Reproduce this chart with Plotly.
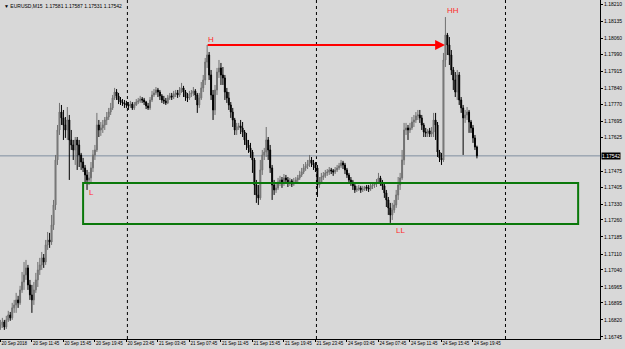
import plotly.graph_objects as go

# ---------------- data (EURUSD M15) ----------------
open_ = [1.16785,1.16798,1.16811,1.16789,1.16820,1.16842,1.16829,1.16873,1.16886,1.16908,
1.16895,1.16952,1.16987,1.17018,1.17049,1.16974,1.16930,1.16908,1.16952,1.16996,
1.17040,1.17062,1.17093,1.17075,1.17150,1.17172,1.17163,1.17238,1.17326,1.17524,
1.17656,1.17735,1.17709,1.17678,1.17656,1.17700,1.17612,1.17590,1.17568,1.17612,
1.17590,1.17546,1.17515,1.17489,1.17458,1.17436,1.17445,1.17489,1.17546,1.17568,
1.17678,1.17656,1.17665,1.17678,1.17700,1.17713,1.17735,1.17753,1.17797,1.17823,
1.17806,1.17788,1.17779,1.17775,1.17770,1.17766,1.17762,1.17770,1.17753,1.17766,
1.17779,1.17784,1.17792,1.17788,1.17779,1.17762,1.17753,1.17788,1.17810,1.17819,
1.17832,1.17823,1.17806,1.17788,1.17784,1.17775,1.17797,1.17806,1.17801,1.17814,
1.17819,1.17810,1.17832,1.17841,1.17823,1.17801,1.17797,1.17814,1.17819,1.17828,
1.17810,1.17766,1.17797,1.17841,1.17876,1.17955,1.17986,1.17898,1.17810,1.17744,
1.17832,1.17911,1.17929,1.17898,1.17885,1.17823,1.17797,1.17766,1.17735,1.17700,
1.17656,1.17669,1.17674,1.17665,1.17647,1.17612,1.17590,1.17577,1.17559,1.17524,
1.17414,1.17370,1.17357,1.17480,1.17546,1.17559,1.17612,1.17568,1.17489,1.17414,
1.17392,1.17401,1.17427,1.17436,1.17423,1.17445,1.17436,1.17423,1.17432,1.17418,
1.17427,1.17436,1.17445,1.17458,1.17471,1.17489,1.17498,1.17506,1.17524,1.17511,
1.17502,1.17489,1.17414,1.17427,1.17449,1.17454,1.17467,1.17471,1.17480,1.17476,
1.17471,1.17480,1.17489,1.17498,1.17511,1.17502,1.17480,1.17458,1.17436,1.17427,
1.17410,1.17392,1.17396,1.17401,1.17392,1.17396,1.17405,1.17401,1.17396,1.17410,
1.17414,1.17418,1.17427,1.17445,1.17427,1.17410,1.17379,1.17348,1.17313,1.17282,
1.17304,1.17326,1.17370,1.17414,1.17445,1.17524,1.17656,1.17665,1.17656,1.17665,
1.17691,1.17700,1.17718,1.17722,1.17709,1.17678,1.17647,1.17643,1.17652,1.17638,
1.17647,1.17700,1.17678,1.17559,1.17533,1.17524,1.17964,1.18074,1.18030,1.17986,
1.17920,1.17876,1.17823,1.17898,1.17788,1.17753,1.17709,1.17722,1.17735,1.17691,
1.17665,1.17621,1.17581]

high = [1.16820,1.16829,1.16820,1.16838,1.16860,1.16855,1.16895,1.16908,1.16939,1.16926,
1.16970,1.17031,1.17075,1.17084,1.17062,1.16996,1.16974,1.16987,1.17027,1.17075,
1.17093,1.17119,1.17110,1.17172,1.17207,1.17203,1.17282,1.17348,1.17546,1.17678,
1.17775,1.17766,1.17744,1.17713,1.17757,1.17722,1.17656,1.17612,1.17625,1.17625,
1.17612,1.17555,1.17533,1.17502,1.17480,1.17471,1.17515,1.17568,1.17590,1.17731,
1.17700,1.17691,1.17700,1.17713,1.17735,1.17753,1.17775,1.17810,1.17841,1.17836,
1.17819,1.17801,1.17792,1.17788,1.17784,1.17779,1.17784,1.17779,1.17779,1.17792,
1.17797,1.17806,1.17801,1.17797,1.17784,1.17775,1.17801,1.17828,1.17836,1.17845,
1.17841,1.17832,1.17814,1.17806,1.17797,1.17810,1.17819,1.17819,1.17828,1.17832,
1.17832,1.17845,1.17863,1.17850,1.17832,1.17819,1.17828,1.17832,1.17845,1.17836,
1.17819,1.17819,1.17867,1.17898,1.17973,1.18030,1.17999,1.17920,1.17832,1.17854,
1.17929,1.17964,1.17951,1.17933,1.17898,1.17841,1.17823,1.17779,1.17753,1.17709,
1.17687,1.17687,1.17700,1.17691,1.17656,1.17643,1.17612,1.17599,1.17568,1.17533,
1.17436,1.17414,1.17524,1.17568,1.17577,1.17669,1.17625,1.17590,1.17502,1.17436,
1.17427,1.17445,1.17454,1.17449,1.17462,1.17458,1.17449,1.17445,1.17440,1.17445,
1.17449,1.17458,1.17476,1.17489,1.17506,1.17515,1.17524,1.17546,1.17537,1.17524,
1.17515,1.17502,1.17449,1.17467,1.17471,1.17480,1.17484,1.17493,1.17489,1.17484,
1.17493,1.17502,1.17511,1.17524,1.17520,1.17511,1.17489,1.17467,1.17449,1.17436,
1.17418,1.17410,1.17414,1.17410,1.17410,1.17410,1.17414,1.17414,1.17423,1.17427,
1.17427,1.17440,1.17467,1.17454,1.17436,1.17418,1.17392,1.17361,1.17335,1.17335,
1.17348,1.17392,1.17449,1.17467,1.17568,1.17687,1.17687,1.17678,1.17687,1.17713,
1.17722,1.17735,1.17744,1.17744,1.17722,1.17687,1.17665,1.17660,1.17665,1.17669,
1.17731,1.17731,1.17691,1.17568,1.17555,1.17995,1.18153,1.18083,1.18065,1.18008,
1.17933,1.17911,1.17920,1.17911,1.17801,1.17766,1.17744,1.17757,1.17744,1.17700,
1.17678,1.17634,1.17587]

low = [1.16776,1.16785,1.16776,1.16780,1.16811,1.16816,1.16820,1.16851,1.16851,1.16873,
1.16886,1.16939,1.16952,1.16996,1.16952,1.16908,1.16851,1.16886,1.16939,1.16965,
1.17018,1.17040,1.17049,1.17062,1.17128,1.17137,1.17150,1.17216,1.17304,1.17502,
1.17634,1.17678,1.17612,1.17621,1.17612,1.17436,1.17568,1.17524,1.17502,1.17480,
1.17493,1.17480,1.17471,1.17423,1.17392,1.17414,1.17423,1.17471,1.17524,1.17559,
1.17625,1.17630,1.17643,1.17656,1.17678,1.17700,1.17722,1.17744,1.17788,1.17788,
1.17770,1.17766,1.17762,1.17753,1.17753,1.17744,1.17753,1.17744,1.17744,1.17762,
1.17770,1.17775,1.17775,1.17766,1.17748,1.17744,1.17744,1.17779,1.17801,1.17810,
1.17801,1.17788,1.17775,1.17770,1.17766,1.17770,1.17788,1.17788,1.17792,1.17801,
1.17797,1.17801,1.17819,1.17801,1.17784,1.17779,1.17788,1.17801,1.17806,1.17788,
1.17731,1.17753,1.17788,1.17823,1.17854,1.17929,1.17876,1.17788,1.17700,1.17722,
1.17810,1.17885,1.17854,1.17854,1.17788,1.17775,1.17744,1.17709,1.17669,1.17634,
1.17634,1.17656,1.17638,1.17625,1.17590,1.17568,1.17555,1.17533,1.17467,1.17370,
1.17335,1.17326,1.17348,1.17458,1.17524,1.17537,1.17524,1.17467,1.17348,1.17370,
1.17379,1.17392,1.17410,1.17401,1.17410,1.17418,1.17405,1.17410,1.17405,1.17410,
1.17418,1.17427,1.17436,1.17449,1.17462,1.17476,1.17484,1.17493,1.17493,1.17480,
1.17471,1.17361,1.17401,1.17418,1.17436,1.17445,1.17454,1.17458,1.17462,1.17454,
1.17462,1.17471,1.17480,1.17489,1.17484,1.17462,1.17445,1.17423,1.17410,1.17392,
1.17379,1.17383,1.17388,1.17379,1.17383,1.17388,1.17388,1.17383,1.17388,1.17396,
1.17401,1.17405,1.17418,1.17410,1.17392,1.17357,1.17317,1.17282,1.17247,1.17260,
1.17291,1.17313,1.17348,1.17392,1.17436,1.17502,1.17634,1.17612,1.17643,1.17656,
1.17669,1.17687,1.17700,1.17687,1.17656,1.17625,1.17625,1.17625,1.17625,1.17625,
1.17625,1.17612,1.17537,1.17515,1.17502,1.17515,1.17933,1.17986,1.17942,1.17898,
1.17832,1.17801,1.17788,1.17766,1.17731,1.17546,1.17687,1.17700,1.17643,1.17643,
1.17599,1.17568,1.17531]

close = [1.16798,1.16811,1.16789,1.16820,1.16842,1.16829,1.16873,1.16886,1.16908,1.16895,
1.16952,1.16987,1.17018,1.17049,1.16974,1.16930,1.16908,1.16952,1.16996,1.17040,
1.17062,1.17093,1.17075,1.17150,1.17172,1.17163,1.17238,1.17326,1.17524,1.17656,
1.17735,1.17709,1.17678,1.17656,1.17700,1.17612,1.17590,1.17568,1.17612,1.17590,
1.17546,1.17515,1.17489,1.17458,1.17436,1.17445,1.17489,1.17546,1.17568,1.17678,
1.17656,1.17665,1.17678,1.17700,1.17713,1.17735,1.17753,1.17797,1.17823,1.17806,
1.17788,1.17779,1.17775,1.17770,1.17766,1.17762,1.17770,1.17753,1.17766,1.17779,
1.17784,1.17792,1.17788,1.17779,1.17762,1.17753,1.17788,1.17810,1.17819,1.17832,
1.17823,1.17806,1.17788,1.17784,1.17775,1.17797,1.17806,1.17801,1.17814,1.17819,
1.17810,1.17832,1.17841,1.17823,1.17801,1.17797,1.17814,1.17819,1.17828,1.17810,
1.17766,1.17797,1.17841,1.17876,1.17955,1.17986,1.17898,1.17810,1.17744,1.17832,
1.17911,1.17929,1.17898,1.17885,1.17823,1.17797,1.17766,1.17735,1.17700,1.17656,
1.17669,1.17674,1.17665,1.17647,1.17612,1.17590,1.17577,1.17559,1.17524,1.17414,
1.17370,1.17357,1.17480,1.17546,1.17559,1.17612,1.17568,1.17489,1.17414,1.17392,
1.17401,1.17427,1.17436,1.17423,1.17445,1.17436,1.17423,1.17432,1.17418,1.17427,
1.17436,1.17445,1.17458,1.17471,1.17489,1.17498,1.17506,1.17524,1.17511,1.17502,
1.17489,1.17414,1.17427,1.17449,1.17454,1.17467,1.17471,1.17480,1.17476,1.17471,
1.17480,1.17489,1.17498,1.17511,1.17502,1.17480,1.17458,1.17436,1.17427,1.17410,
1.17392,1.17396,1.17401,1.17392,1.17396,1.17405,1.17401,1.17396,1.17410,1.17414,
1.17418,1.17427,1.17445,1.17427,1.17410,1.17379,1.17348,1.17313,1.17282,1.17304,
1.17326,1.17370,1.17414,1.17445,1.17524,1.17656,1.17665,1.17656,1.17665,1.17691,
1.17700,1.17718,1.17722,1.17709,1.17678,1.17647,1.17643,1.17652,1.17638,1.17647,
1.17700,1.17678,1.17559,1.17533,1.17524,1.17964,1.18074,1.18030,1.17986,1.17920,
1.17876,1.17823,1.17898,1.17788,1.17753,1.17709,1.17722,1.17735,1.17691,1.17665,
1.17621,1.17581,1.17542]

bar_index = list(range(len(close)))

time_tick_bars = [0, 16, 32, 48, 64, 80, 96, 112, 128, 144, 160, 176, 192, 208, 224, 240]
time_tick_labels = ["20 Sep 2018", "20 Sep 11:45", "20 Sep 15:45", "20 Sep 19:45", "20 Sep 23:45",
                    "21 Sep 03:45", "21 Sep 07:45", "21 Sep 11:45", "21 Sep 15:45", "21 Sep 19:45",
                    "21 Sep 23:45", "24 Sep 03:45", "24 Sep 07:45", "24 Sep 11:45", "24 Sep 15:45",
                    "24 Sep 19:45"]
day_separator_bars = [64.5, 160.5, 256.5]

price_ticks = [1.18210, 1.18135, 1.18060, 1.17990, 1.17915, 1.17840, 1.17770, 1.17695, 1.17625,
               1.17475, 1.17405, 1.17330, 1.17260, 1.17185, 1.17110, 1.17040, 1.16965, 1.16895,
               1.16820, 1.16745]
price_tick_labels = [f"{v:.5f}" for v in price_ticks]

current_price = 1.17542
title_text = "\u25bc EURUSD,M15  1.17581 1.17587 1.17531 1.17542"

# annotations drawn by the trader
zone_bars = [42.0, 293.4]
zone_prices = [1.17242, 1.17423]
arrow_bars = [104.5, 225.8]
arrow_price = 1.18030
marks = [("H", 106.8, 1.18054), ("HH", 230.0, 1.18182), ("L", 46.2, 1.17379), ("LL", 203.0, 1.17212)]

BG = "#d8d8d8"

fig = go.Figure()
fig.add_trace(go.Candlestick(
    x=bar_index, open=open_, high=high, low=low, close=close,
    increasing=dict(line=dict(color="#707070", width=1), fillcolor="#909090"),
    decreasing=dict(line=dict(color="#000000", width=1), fillcolor="#000000"),
    whiskerwidth=0, showlegend=False, hoverinfo="skip"))

shapes = []
for b in day_separator_bars:
    shapes.append(dict(type="line", xref="x", yref="paper", x0=b, x1=b, y0=0, y1=1,
                       line=dict(color="#000000", width=1, dash="dot"), layer="below"))
shapes.append(dict(type="line", xref="paper", yref="y", x0=0, x1=1, y0=current_price, y1=current_price,
                   line=dict(color="#7f8fa0", width=1), layer="below"))
shapes.append(dict(type="rect", xref="x", yref="y", x0=zone_bars[0], x1=zone_bars[1],
                   y0=zone_prices[0], y1=zone_prices[1],
                   line=dict(color="#0a780a", width=2), fillcolor="rgba(0,0,0,0)"))

annotations = [
    dict(x=arrow_bars[1], y=arrow_price, ax=arrow_bars[0], ay=arrow_price, xref="x", yref="y",
         axref="x", ayref="y", showarrow=True, arrowhead=2, arrowsize=0.9, arrowwidth=2.2,
         arrowcolor="#ff0000", text=""),
    dict(x=1, xref="paper", y=current_price, yref="y", xanchor="left", yanchor="middle",
         text=f"{current_price:.5f}", showarrow=False, bgcolor="#000000",
         font=dict(color="#ffffff", size=5, family="Liberation Sans"), borderpad=0, xshift=1),
    dict(x=0, xref="paper", y=1, yref="paper", xanchor="left", yanchor="top", text=title_text,
         showarrow=False, font=dict(color="#000000", size=5, family="Liberation Sans"), xshift=2, yshift=-1),
]
for txt, b, p in marks:
    annotations.append(dict(x=b, y=p, xref="x", yref="y", text=txt, showarrow=False,
                            font=dict(color="#ff2a2a", size=8, family="Liberation Sans")))

fig.update_layout(
    width=625, height=349,
    margin=dict(l=0, r=25, t=0, b=10, autoexpand=False),
    paper_bgcolor=BG, plot_bgcolor=BG,
    shapes=shapes, annotations=annotations,
    xaxis=dict(range=[-0.2, 304.5], rangeslider=dict(visible=False), showgrid=False, zeroline=False,
               tickmode="array", tickvals=time_tick_bars, ticktext=time_tick_labels,
               ticks="outside", ticklen=2, tickcolor="#000000", ticklabelposition="outside right",
               tickangle=0, automargin=False,
               tickfont=dict(size=4.5, color="#000000", family="Liberation Sans"),
               showline=True, linecolor="#000000", linewidth=1),
    yaxis=dict(range=[1.16736, 1.18228], side="right", showgrid=False, zeroline=False,
               tickmode="array", tickvals=price_ticks, ticktext=price_tick_labels,
               ticks="outside", ticklen=2, tickcolor="#000000", automargin=False,
               tickfont=dict(size=5, color="#000000", family="Liberation Sans"),
               showline=True, linecolor="#000000", linewidth=1),
    font=dict(family="Liberation Sans"),
)

fig.write_html("out.html")
